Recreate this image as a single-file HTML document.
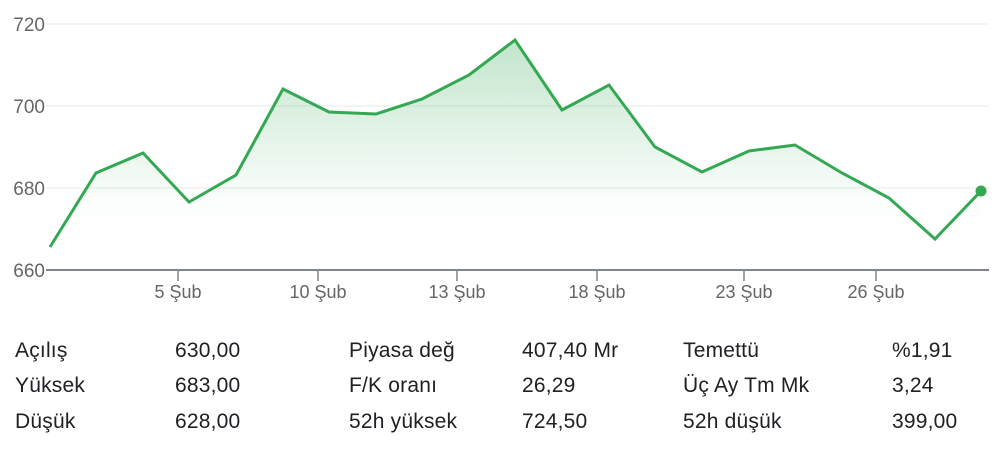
<!DOCTYPE html>
<html><head><meta charset="utf-8"><style>
body{margin:0;width:997px;height:451px;background:#fff;overflow:hidden;font-family:"Liberation Sans",sans-serif}
.t{position:absolute;font-size:21px;color:#202124;line-height:1;letter-spacing:0.2px}
</style></head><body>
<svg width="997" height="305" style="position:absolute;left:0;top:0">
<defs><linearGradient id="g" gradientUnits="userSpaceOnUse" x1="0" y1="40" x2="0" y2="270">
<stop offset="0" stop-color="#34a853" stop-opacity="0.3"/><stop offset="0.7" stop-color="#34a853" stop-opacity="0.02"/><stop offset="0.85" stop-color="#34a853" stop-opacity="0"/></linearGradient></defs>
<g stroke="#f1f1f1" stroke-width="1.5"><line x1="46" y1="24" x2="989" y2="24"/><line x1="46" y1="106" x2="989" y2="106"/><line x1="46" y1="188" x2="989" y2="188"/></g>
<g font-size="19" fill="#666" text-anchor="end" font-family="Liberation Sans,sans-serif">
<text x="45" y="31">720</text><text x="45" y="113">700</text><text x="45" y="195">680</text><text x="45" y="277">660</text></g>
<polygon fill="url(#g)" points="50,270 50,247 96,173 143,153 189,202 236,175 283,89 329,112 376,114 422,99 469,75 515,40 562,110 609,85 655,147 702,172 749,151 795,145 842,173 889,198 935,239 981,191 981,270"/>
<polyline fill="none" stroke="#34a853" stroke-width="3" points="50,247 96,173 143,153 189,202 236,175 283,89 329,112 376,114 422,99 469,75 515,40 562,110 609,85 655,147 702,172 749,151 795,145 842,173 889,198 935,239 981,191"/>
<circle cx="981" cy="191" r="5.5" fill="#34a853"/>
<line x1="46" y1="270" x2="989" y2="270" stroke="#80868b" stroke-width="2"/>
<g stroke="#80868b" stroke-width="1.5"><line x1="178" y1="270" x2="178" y2="281"/><line x1="318" y1="270" x2="318" y2="281"/><line x1="457" y1="270" x2="457" y2="281"/><line x1="597" y1="270" x2="597" y2="281"/><line x1="744" y1="270" x2="744" y2="281"/><line x1="876" y1="270" x2="876" y2="281"/></g>
<g font-size="18" fill="#666" text-anchor="middle" font-family="Liberation Sans,sans-serif">
<text x="178" y="298">5 Şub</text><text x="318" y="298">10 Şub</text><text x="457" y="298">13 Şub</text><text x="597" y="298">18 Şub</text><text x="744" y="298">23 Şub</text><text x="876" y="298">26 Şub</text></g>
</svg>
<div class="t" style="left:15px;top:340px">Açılış</div><div class="t" style="left:175px;top:340px">630,00</div>
<div class="t" style="left:349px;top:340px">Piyasa değ</div><div class="t" style="left:522px;top:340px">407,40 Mr</div>
<div class="t" style="left:683px;top:340px">Temettü</div><div class="t" style="left:892px;top:340px">%1,91</div>
<div class="t" style="left:15px;top:375px">Yüksek</div><div class="t" style="left:175px;top:375px">683,00</div>
<div class="t" style="left:349px;top:375px">F/K oranı</div><div class="t" style="left:522px;top:375px">26,29</div>
<div class="t" style="left:683px;top:375px">Üç Ay Tm Mk</div><div class="t" style="left:892px;top:375px">3,24</div>
<div class="t" style="left:15px;top:411px">Düşük</div><div class="t" style="left:175px;top:411px">628,00</div>
<div class="t" style="left:349px;top:411px">52h yüksek</div><div class="t" style="left:522px;top:411px">724,50</div>
<div class="t" style="left:683px;top:411px">52h düşük</div><div class="t" style="left:892px;top:411px">399,00</div>
</body></html>
